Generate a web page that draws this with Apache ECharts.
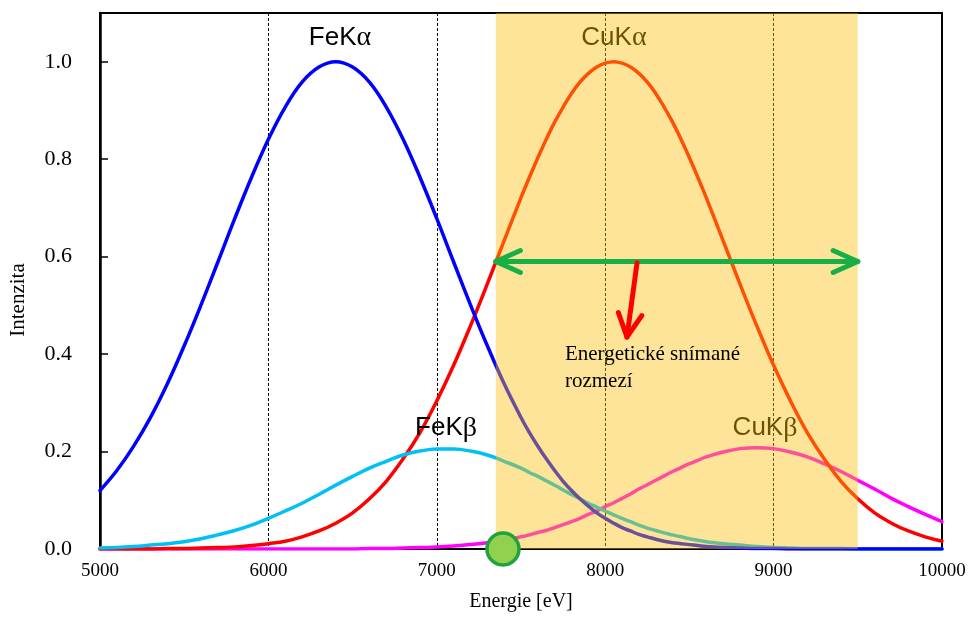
<!DOCTYPE html>
<html>
<head>
<meta charset="utf-8">
<script src="https://cdn.jsdelivr.net/npm/echarts@6/dist/echarts.min.js"></script>
<style>
html,body{margin:0;padding:0;background:#fff;}
#chart{width:970px;height:617px;}
</style>
</head>
<body>
<div id="chart"></div>
<script>
// ---- data ----
const energies = [5000,5100,5200,5300,5400,5500,5600,5700,5800,5900,6000,6100,6200,6300,6400,6500,6600,6700,6800,6900,7000,7100,7200,7300,7400,7500,
  7550,7600,7650,7700,7750,7800,7850,7900,7950,8000,8050,8100,8150,8200,8250,8300,8350,8400,8450,8500,8550,
  8600,8700,8800,8900,9000,9100,9200,9300,9400,9500,9600,9700,9800,9900,10000];
const feKa = [0.120,0.161,0.211,0.270,0.339,0.417,0.501,0.589,0.678,0.763,0.841,0.907,0.958,0.989,1.000,0.989,0.958,0.907,0.841,0.763,0.678,0.589,0.501,0.417,0.339,0.270,
  0.239,0.211,0.185,0.161,0.139,0.120,0.103,0.088,0.074,0.063,0.053,0.044,0.037,0.030,0.025,0.020,0.016,0.013,0.011,0.009,0.007,
  0.005,0.003,0.002,0.001,0.001,0,0,0,0,0,0,0,0,0,0];
const feKb = [0.002,0.003,0.005,0.008,0.011,0.015,0.021,0.029,0.038,0.049,0.063,0.078,0.094,0.112,0.131,0.149,0.166,0.180,0.193,0.201,0.205,0.205,0.201,0.193,0.180,0.166,
  0.157,0.149,0.140,0.131,0.121,0.112,0.103,0.094,0.086,0.078,0.070,0.063,0.056,0.049,0.043,0.038,0.033,0.029,0.025,0.021,0.018,
  0.015,0.011,0.008,0.005,0.003,0.002,0.001,0.001,0.001,0,0,0,0,0,0];
const cuKa = [0,0,0,0,0.001,0.001,0.002,0.003,0.004,0.007,0.011,0.016,0.025,0.037,0.053,0.074,0.103,0.139,0.185,0.239,0.304,0.377,0.458,0.544,0.633,0.721,
  0.763,0.803,0.841,0.876,0.907,0.935,0.958,0.976,0.989,0.997,1.000,0.997,0.989,0.976,0.958,0.935,0.907,0.876,0.841,0.803,0.763,
  0.721,0.633,0.544,0.458,0.377,0.304,0.239,0.185,0.139,0.103,0.074,0.053,0.037,0.025,0.016];
const cuKb = [0,0,0,0,0,0,0,0,0,0,0,0,0,0,0,0,0.001,0.001,0.002,0.003,0.004,0.006,0.009,0.013,0.018,0.025,
  0.029,0.034,0.038,0.044,0.050,0.056,0.063,0.071,0.078,0.087,0.095,0.104,0.113,0.123,0.132,0.141,0.150,0.159,0.167,0.175,0.182,
  0.189,0.199,0.206,0.208,0.206,0.199,0.189,0.175,0.159,0.141,0.123,0.104,0.087,0.071,0.056];

const peakLabelText = ['FeK{g|α}','CuK{g|α}','FeK{g|β}','CuK{g|β}'];
const peakLabelX = [6425, 8052, 7055, 8949];
const peakLabelY = [1.049, 1.049, 0.248, 0.248];

const rangeStart = 7350;   // energy window
const rangeEnd = 9500;
const rangeLevel = 0.59;
const redArrowFrom = [8189, 0.587];
const redArrowTo = [8129, 0.435];
const windowNoteLines = ['Energetické snímané', 'rozmezí'];
const windowNotePos = [7761, 0.372];
const markerPoint = [7393, 0];

const xTicks = {min: 5000, max: 10000, interval: 1000};
const yTicks = {min: 0, max: 1.1, interval: 0.2};

// ---- chart ----
const chart = echarts.init(document.getElementById('chart'), null, {renderer: 'canvas'});
const serif = '"Liberation Serif","Times New Roman",serif';
const sans = '"Liberation Sans",Arial,sans-serif';

function pairs(ys){ return energies.map((x,i)=>[x, ys[i]]); }

function chevron(tip, back, len, ang){
  const dx = back[0]-tip[0], dy = back[1]-tip[1];
  const d = Math.hypot(dx,dy); const ux = dx/d, uy = dy/d;
  const c = Math.cos(ang), s = Math.sin(ang);
  const a1 = [tip[0] + len*(ux*c - uy*s), tip[1] + len*(ux*s + uy*c)];
  const a2 = [tip[0] + len*(ux*c + uy*s), tip[1] + len*(-ux*s + uy*c)];
  return [a1, tip, a2];
}

const lineDefs = [
  {name: 'CuKβ', data: cuKb, color: '#FF00FF'},
  {name: 'CuKα', data: cuKa, color: '#FF0000'},
  {name: 'FeKβ', data: feKb, color: '#00C0F5'},
  {name: 'FeKα', data: feKa, color: '#0000FF'}
];

const option = {
  animation: false,
  backgroundColor: '#fff',
  grid: {left: 100, right: 28, top: 13, bottom: 68, show: true, borderColor: '#000', borderWidth: 2, backgroundColor: 'transparent'},
  xAxis: {
    type: 'value', min: xTicks.min, max: xTicks.max, interval: xTicks.interval,
    name: 'Energie [eV]', nameLocation: 'middle', nameGap: 43,
    nameTextStyle: {fontFamily: serif, fontSize: 20, color: '#000'},
    axisLine: {lineStyle: {color: '#000', width: 2}},
    axisTick: {show: false},
    axisLabel: {fontFamily: serif, fontSize: 19, color: '#000', margin: 13, formatter: v => String(v)},
    splitLine: {show: true, lineStyle: {color: '#000', width: 1, type: [3, 2]}}
  },
  yAxis: {
    type: 'value', min: yTicks.min, max: yTicks.max, interval: yTicks.interval,
    name: 'Intenzita', nameLocation: 'middle', nameGap: 71,
    nameTextStyle: {fontFamily: serif, fontSize: 21, color: '#000', padding: [0, 38, 0, 0]},
    axisLine: {show: true, lineStyle: {color: '#000', width: 2.5}},
    axisTick: {show: true, inside: true, length: 8, lineStyle: {color: '#000', width: 1.5}},
    axisLabel: {fontFamily: serif, fontSize: 22, color: '#000', margin: 28, showMaxLabel: false,
      formatter: v => v.toFixed(1)},
    splitLine: {show: false}
  },
  series: [
    ...lineDefs.map((d, i) => ({
      type: 'line', name: d.name, data: pairs(d.data), showSymbol: false, smooth: 0.4,
      z: 2 + i * 0.1,
      lineStyle: {color: d.color, width: 3.5, join: 'round', cap: 'round'}, itemStyle: {color: d.color}
    })),
    {
      // peak labels (below the translucent window)
      type: 'custom', z: 3,
      data: peakLabelX.map((x, i) => [x, peakLabelY[i]]),
      renderItem: (params, api) => {
        const c = api.coord([api.value(0), api.value(1)]);
        return {type: 'text', x: c[0], y: c[1], style: {
          text: peakLabelText[params.dataIndex],
          fontFamily: sans, fontSize: 26, fill: '#000',
          align: 'center', verticalAlign: 'middle',
          rich: {g: {fontFamily: serif, fontSize: 28, fill: '#000'}}
        }};
      }
    },
    {
      // translucent energy window
      type: 'custom', z: 10,
      data: [[rangeStart, rangeEnd]],
      renderItem: (params, api) => {
        const p0 = api.coord([api.value(0), yTicks.max]);
        const p1 = api.coord([api.value(1), yTicks.min]);
        return {type: 'rect', shape: {x: p0[0], y: p0[1], width: p1[0]-p0[0], height: p1[1]-p0[1]},
          style: {fill: 'rgba(252,190,10,0.42)'}};
      }
    },
    {
      // green double arrow
      type: 'custom', z: 20,
      data: [[rangeStart, rangeEnd, rangeLevel]],
      renderItem: (params, api) => {
        const a = api.coord([api.value(0), api.value(2)]);
        const b = api.coord([api.value(1), api.value(2)]);
        const st = {stroke: '#16B047', lineWidth: 5, lineCap: 'round', lineJoin: 'round', fill: null};
        const ang = 24 * Math.PI / 180;
        return {type: 'group', children: [
          {type: 'line', shape: {x1: a[0], y1: a[1], x2: b[0], y2: b[1]}, style: st},
          {type: 'polyline', shape: {points: chevron(a, b, 27, ang)}, style: st},
          {type: 'polyline', shape: {points: chevron(b, a, 27, ang)}, style: st}
        ]};
      }
    },
    {
      // red arrow
      type: 'custom', z: 20,
      data: [[redArrowFrom[0], redArrowFrom[1], redArrowTo[0], redArrowTo[1]]],
      renderItem: (params, api) => {
        const a = api.coord([api.value(0), api.value(1)]);
        const b = api.coord([api.value(2), api.value(3)]);
        const st = {stroke: '#FF0000', lineWidth: 5, lineCap: 'round', lineJoin: 'round', fill: null};
        const ang = 27 * Math.PI / 180;
        return {type: 'group', children: [
          {type: 'line', shape: {x1: a[0], y1: a[1], x2: b[0], y2: b[1]}, style: st},
          {type: 'polyline', shape: {points: chevron(b, a, 26, ang)}, style: st}
        ]};
      }
    },
    {
      // annotation text
      type: 'custom', z: 21,
      data: [windowNotePos],
      renderItem: (params, api) => {
        const c = api.coord([api.value(0), api.value(1)]);
        return {type: 'text', x: c[0], y: c[1], style: {
          text: windowNoteLines.join('\n'), fontFamily: serif, fontSize: 21, lineHeight: 27,
          fill: '#000', align: 'left', verticalAlign: 'middle'
        }};
      }
    },
    {
      // green marker on the axis
      type: 'custom', z: 22,
      data: [markerPoint],
      renderItem: (params, api) => {
        const c = api.coord([api.value(0), api.value(1)]);
        return {type: 'circle', shape: {cx: c[0], cy: c[1], r: 16},
          style: {fill: '#92D050', stroke: '#1FA33C', lineWidth: 3.5}};
      }
    }
  ]
};
chart.setOption(option);
</script>
</body>
</html>
